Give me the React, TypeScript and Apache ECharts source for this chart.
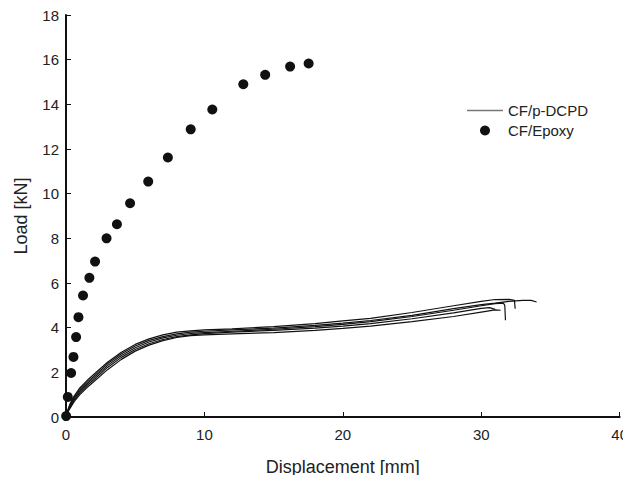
import React, { useEffect, useRef } from "react";
import * as echarts from "echarts";

// CF/Epoxy measured points [displacement mm, load kN]
const epoxyX = [0.01, 0.13, 0.37, 0.54, 0.73, 0.9, 1.23, 1.69, 2.1, 2.93, 3.68, 4.63, 5.94, 7.36, 9.01, 10.57, 12.81, 14.39, 16.19, 17.53];
const epoxyY = [0.04, 0.9, 1.97, 2.69, 3.58, 4.47, 5.44, 6.23, 6.96, 8.0, 8.63, 9.57, 10.54, 11.62, 12.88, 13.77, 14.9, 15.32, 15.69, 15.83];

// CF/p-DCPD curves (5 specimens)
const dcpd1X = [0, 0.15, 0.3, 0.6, 1, 1.5, 2, 3, 4, 5, 6, 7, 8, 9, 10, 12, 15, 18, 20, 22, 25, 28, 30, 31, 32, 32.4, 32.45];
const dcpd1Y = [0, 0.35, 0.6, 0.95, 1.3, 1.62, 1.9, 2.45, 2.9, 3.25, 3.5, 3.68, 3.8, 3.86, 3.9, 3.95, 4.05, 4.18, 4.3, 4.42, 4.68, 4.98, 5.18, 5.26, 5.27, 5.22, 4.85];
const dcpd2X = [0, 0.15, 0.3, 0.6, 1, 1.5, 2, 3, 4, 5, 6, 7, 8, 9, 10, 12, 15, 18, 20, 22, 25, 28, 30, 31, 32, 33, 33.6, 34];
const dcpd2Y = [0, 0.32, 0.55, 0.9, 1.22, 1.54, 1.82, 2.38, 2.83, 3.18, 3.43, 3.6, 3.72, 3.8, 3.84, 3.9, 3.98, 4.1, 4.2, 4.32, 4.55, 4.85, 5.03, 5.1, 5.18, 5.22, 5.22, 5.15];
const dcpd3X = [0, 0.15, 0.3, 0.6, 1, 1.5, 2, 3, 4, 5, 6, 7, 8, 9, 10, 12, 15, 18, 20, 22, 25, 28, 30, 31, 31.6, 31.7, 31.75];
const dcpd3Y = [0, 0.3, 0.5, 0.83, 1.15, 1.47, 1.75, 2.3, 2.75, 3.1, 3.36, 3.54, 3.66, 3.74, 3.78, 3.84, 3.93, 4.05, 4.15, 4.27, 4.5, 4.78, 4.98, 5.08, 5.1, 5.0, 4.33];
const dcpd4X = [0, 0.15, 0.3, 0.6, 1, 1.5, 2, 3, 4, 5, 6, 7, 8, 9, 10, 12, 15, 18, 20, 22, 25, 28, 30, 30.6, 31.0];
const dcpd4Y = [0, 0.27, 0.45, 0.77, 1.08, 1.4, 1.67, 2.22, 2.67, 3.02, 3.28, 3.47, 3.6, 3.68, 3.73, 3.8, 3.88, 3.98, 4.07, 4.18, 4.4, 4.66, 4.86, 4.9, 4.82];
const dcpd5X = [0, 0.15, 0.3, 0.6, 1, 1.5, 2, 3, 4, 5, 6, 7, 8, 9, 10, 12, 15, 18, 20, 22, 25, 28, 30, 31, 31.4];
const dcpd5Y = [0, 0.24, 0.4, 0.7, 1.0, 1.31, 1.58, 2.12, 2.58, 2.95, 3.22, 3.42, 3.56, 3.64, 3.68, 3.72, 3.78, 3.88, 3.97, 4.07, 4.27, 4.5, 4.7, 4.8, 4.78];

const dcpdCurves = [
  [dcpd1X, dcpd1Y],
  [dcpd2X, dcpd2Y],
  [dcpd3X, dcpd3Y],
  [dcpd4X, dcpd4Y],
  [dcpd5X, dcpd5Y],
];

const seriesNames = ["CF/p-DCPD", "CF/Epoxy"];
const xName = "Displacement [mm]";
const yName = "Load [kN]";

const zip = (xs: number[], ys: number[]) => xs.map((x, i) => [x, ys[i]]);

export default function App() {
  const ref = useRef<HTMLDivElement>(null);
  useEffect(() => {
    if (!ref.current) return;
    const chart = echarts.init(ref.current, null, { renderer: "svg" });
    const font = "'Liberation Sans', Arial, sans-serif";
    const lineSeries = dcpdCurves.map(([xs, ys]) => ({
      name: seriesNames[0],
      type: "line",
      data: zip(xs, ys),
      symbol: "none",
      lineStyle: { color: "#111", width: 1.2 },
      itemStyle: { color: "#111" },
    }));
    chart.setOption({
      animation: false,
      textStyle: { fontFamily: font },
      grid: { left: 66, right: 8, top: 15, bottom: 66, containLabel: false },
      legend: {
        orient: "vertical",
        left: 462,
        top: 98,
        itemWidth: 36,
        itemHeight: 10,
        itemGap: 5,
        textStyle: { fontSize: 15, color: "#222", fontFamily: font },
        data: [
          { name: seriesNames[0], icon: "path://M0,0L100,0L100,4L0,4Z", itemStyle: { color: "#777" } },
          { name: seriesNames[1], icon: "circle" },
        ],
      },
      xAxis: {
        type: "value",
        min: 0,
        max: 40,
        interval: 10,
        name: xName,
        nameLocation: "middle",
        nameGap: 41,
        nameTextStyle: { fontSize: 18, color: "#222", fontFamily: font },
        axisLine: { show: true, onZero: false, lineStyle: { color: "#111", width: 2 } },
        axisTick: { show: true, inside: true, length: 5, lineStyle: { color: "#111", width: 1 } },
        axisLabel: { fontSize: 15, color: "#222", margin: 10, fontFamily: font },
        splitLine: { show: false },
      },
      yAxis: {
        type: "value",
        min: 0,
        max: 18,
        interval: 2,
        name: yName,
        nameLocation: "middle",
        nameGap: 36,
        nameTextStyle: { fontSize: 18, color: "#222", fontFamily: font },
        axisLine: { show: true, onZero: false, lineStyle: { color: "#111", width: 2 } },
        axisTick: { show: true, inside: true, length: 5, lineStyle: { color: "#111", width: 1 } },
        axisLabel: { fontSize: 15, color: "#222", margin: 7, fontFamily: font },
        splitLine: { show: false },
      },
      series: [
        ...lineSeries,
        {
          name: seriesNames[1],
          type: "scatter",
          data: zip(epoxyX, epoxyY),
          symbol: "circle",
          symbolSize: 10,
          itemStyle: { color: "#111", opacity: 1 },
          z: 3,
        },
      ],
    });
    return () => chart.dispose();
  }, []);
  return <div ref={ref} style={{ width: 631, height: 483, margin: -8 }} />;
}
